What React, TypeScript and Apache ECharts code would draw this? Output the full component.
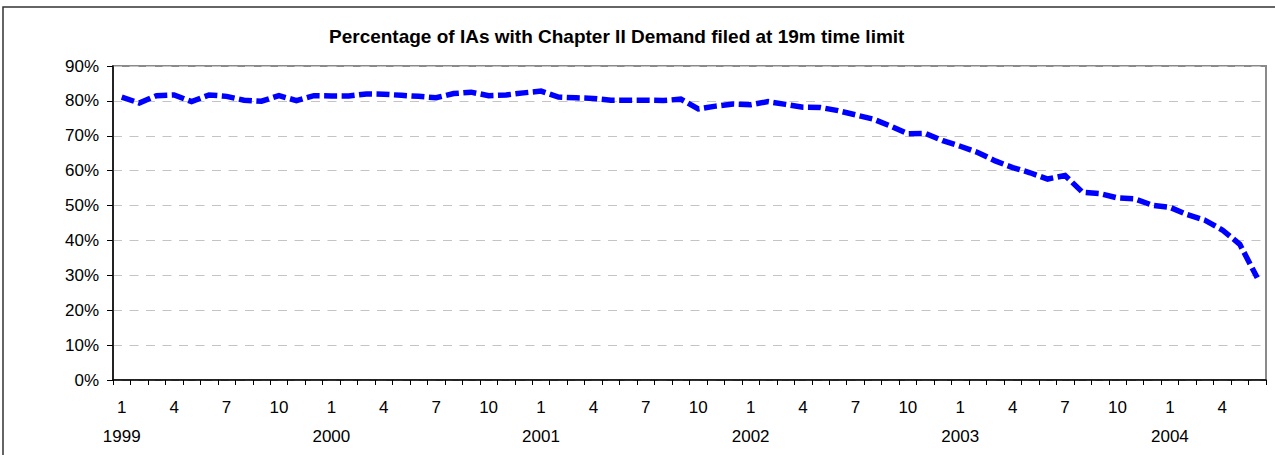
import React, { useEffect, useRef } from "react";
import * as echarts from "echarts";

const TITLE = "Percentage of IAs with Chapter II Demand filed at 19m time limit";

const years = [1999, 2000, 2001, 2002, 2003, 2004];
const monthsInYear = [12, 12, 12, 12, 12, 6];
const categories: string[] = [];
years.forEach((y, yi) => {
  for (let m = 1; m <= monthsInYear[yi]; m++) categories.push(`${y}-${m}`);
});

// Percentage values, one per month, Jan 1999 .. Jun 2004
const demandPct = [
  81.1, 79.4, 81.5, 81.7, 79.8, 81.7, 81.3, 80.2, 79.9, 81.5, 80.1, 81.5,
  81.4, 81.4, 82.0, 81.9, 81.6, 81.3, 80.9, 82.1, 82.5, 81.5, 81.7, 82.3,
  82.8, 81.1, 80.9, 80.7, 80.2, 80.2, 80.2, 80.1, 80.5, 77.7, 78.5, 79.1,
  78.9, 79.8, 79.0, 78.2, 78.1, 77.2, 76.0, 74.8, 72.8, 70.6, 70.7, 68.6,
  67.0, 65.2, 62.8, 60.9, 59.4, 57.6, 58.6, 53.8, 53.4, 52.2, 51.9, 50.1,
  49.5, 47.4, 45.8, 43.0, 38.9, 29.3,
];

const yMin = 0;
const yMax = 90;
const yStep = 10;

const FONT = "'Liberation Sans', Arial, sans-serif";

export default function App() {
  const ref = useRef<HTMLDivElement>(null);
  useEffect(() => {
    document.body.style.margin = "0";
    const chart = echarts.init(ref.current!, undefined, { renderer: "svg" });
    chart.setOption({
      animation: false,
      backgroundColor: "#ffffff",
      title: {
        text: TITLE,
        left: 329,
        top: 27,
        padding: 0,
        textStyle: { fontFamily: FONT, fontSize: 19, fontWeight: "bold", color: "#000" },
      },
      graphic: [
        {
          type: "rect",
          shape: { x: 3, y: 7, width: 1300, height: 470 },
          style: { fill: "none", stroke: "#333333", lineWidth: 1.5 },
          silent: true,
          z: -1,
        },
      ],
      grid: {
        left: 113,
        right: 9,
        top: 66,
        bottom: 75,
        show: true,
        borderColor: "#8a8a8a",
        borderWidth: 2,
        backgroundColor: "transparent",
      },
      xAxis: {
        type: "category",
        data: categories,
        boundaryGap: true,
        axisLine: { lineStyle: { color: "#000", width: 1.5 } },
        axisTick: { show: true, interval: 0, length: 5, lineStyle: { color: "#000" } },
        axisLabel: {
          interval: 2,
          margin: 13,
          fontFamily: FONT,
          fontSize: 17,
          lineHeight: 29,
          color: "#000",
          formatter: (v: string) => {
            const [y, m] = v.split("-");
            return m === "1" ? `${m}\n${y}` : m;
          },
        },
        splitLine: { show: false },
      },
      yAxis: {
        type: "value",
        min: yMin,
        max: yMax,
        interval: yStep,
        axisLine: { show: true, lineStyle: { color: "#000", width: 1.5 } },
        axisTick: { show: true, length: 6, lineStyle: { color: "#000" } },
        axisLabel: {
          formatter: "{value}%",
          margin: 14,
          fontFamily: FONT,
          fontSize: 17,
          color: "#000",
        },
        splitLine: {
          show: true,
          lineStyle: { color: "#c4c4c4", width: 1, type: [9, 7.5] },
        },
      },
      series: [
        {
          type: "line",
          data: demandPct,
          showSymbol: false,
          symbol: "none",
          lineStyle: { color: "#0000ff", width: 5.5, type: [13, 4.5], cap: "butt", join: "miter" },
        },
      ],
    });
    return () => chart.dispose();
  }, []);
  return <div ref={ref} style={{ width: 1275, height: 455 }} />;
}
